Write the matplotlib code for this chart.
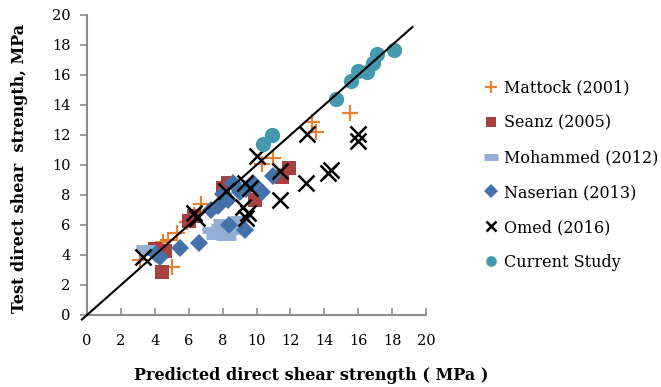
import matplotlib
matplotlib.use("Agg")
import matplotlib.pyplot as plt

# data (predicted, test) in MPa
mattock_x = [3.1, 4.5, 4.8, 5.0, 5.3, 5.9, 6.3, 6.7, 10.3, 11.0, 11.4, 13.3, 13.5, 15.5]
mattock_y = [3.7, 4.9, 5.0, 3.2, 5.5, 6.2, 6.7, 7.4, 10.1, 10.5, 9.3, 12.9, 12.2, 13.5]

seanz_x = [4.0, 4.6, 4.4, 6.0, 6.3, 8.0, 8.3, 9.9, 11.9, 11.5]
seanz_y = [4.4, 4.3, 2.9, 6.3, 6.6, 8.5, 8.8, 7.7, 9.8, 9.2]

mohammed_x = [3.5, 3.8, 7.4, 7.6, 7.9, 8.2, 8.5, 8.8, 9.0, 8.0]
mohammed_y = [4.5, 4.2, 5.7, 5.3, 5.9, 5.2, 5.6, 6.0, 6.4, 6.2]

naserian_x = [4.1, 4.3, 5.5, 6.6, 7.3, 7.7, 8.0, 8.3, 8.6, 9.0, 9.3, 9.8, 10.3, 11.0, 9.4, 8.4]
naserian_y = [4.1, 3.9, 4.5, 4.8, 7.0, 7.3, 8.1, 7.7, 8.8, 8.2, 5.7, 8.8, 8.2, 9.3, 8.4, 6.0]

omed_x = [3.3, 6.3, 6.5, 8.2, 9.2, 9.4, 9.5, 9.6, 9.3, 10.0, 11.4, 11.4, 12.9, 13.0, 14.2, 14.4, 16.0, 16.0]
omed_y = [3.9, 6.8, 6.5, 8.3, 7.2, 6.5, 6.8, 8.5, 8.8, 10.6, 9.6, 7.7, 8.8, 12.1, 9.5, 9.7, 12.1, 11.6]

current_x = [10.4, 10.9, 14.7, 15.6, 16.0, 16.5, 16.9, 17.1, 18.1]
current_y = [11.4, 12.0, 14.4, 15.6, 16.3, 16.2, 16.8, 17.4, 17.7]

ticks = [0, 2, 4, 6, 8, 10, 12, 14, 16, 18, 20]

plt.rcParams['font.family'] = ['DejaVu Serif']

fig = plt.figure(figsize=(6.61, 3.87), dpi=100)
ax = fig.add_axes([87/661, 72/387, 339/661, 300/387])

ax.plot(mattock_x, mattock_y, ls='none', marker='+', ms=12, mew=1.6,
        color='#E58332', label='Mattock (2001)')
ax.plot(seanz_x, seanz_y, ls='none', marker='s', ms=10.5, mew=0,
        color='#A8403F', label='Seanz (2005)')
ax.plot(mohammed_x, mohammed_y, ls='none', marker='_', ms=15, mew=5,
        color='#93AFD6', label='Mohammed (2012)')
ax.plot(naserian_x, naserian_y, ls='none', marker='D', ms=9.5, mew=0,
        color='#4471A8', label='Naserian (2013)')
ax.plot(omed_x, omed_y, ls='none', marker='x', ms=11, mew=1.8,
        color='black', label='Omed (2016)')
ax.plot(current_x, current_y, ls='none', marker='o', ms=11, mew=0,
        color='#4598AF', label='Current Study')
ax.plot([-0.3, 19.2], [-0.3, 19.2], color='black', lw=1.5, clip_on=False, zorder=5)

ax.set_xlim(0, 20)
ax.set_ylim(0, 20)
ax.set_xticks(ticks)
ax.set_yticks(ticks)
for s in ['top', 'right']:
    ax.spines[s].set_visible(False)
for s in ['left', 'bottom']:
    ax.spines[s].set_color('#8c8c8c')
    ax.spines[s].set_linewidth(1.5)
ax.tick_params(axis='x', direction='in', length=5, width=1.2, color='#8c8c8c',
               pad=14, labelsize=10.5)
ax.tick_params(axis='y', direction='out', length=5, width=1.2, color='#8c8c8c',
               pad=7, labelsize=10.5)

fig.text(311/661, 1 - 375/387, 'Predicted direct shear strength ( MPa )',
         ha='center', va='center', fontsize=11.5, fontweight='bold')
fig.text(20/661, 1 - 168/387, 'Test direct shear  strength, MPa', rotation=90,
         ha='center', va='center', fontsize=11.5, fontweight='bold')

ax.legend(loc='upper left', bbox_to_anchor=(478/661, 1 - 73/387),
          bbox_transform=fig.transFigure, frameon=False, fontsize=11.5,
          labelspacing=1.12, handlelength=0.8, handletextpad=0.4,
          markerscale=0.7, borderaxespad=0)

fig.savefig('out.png', dpi=100)
